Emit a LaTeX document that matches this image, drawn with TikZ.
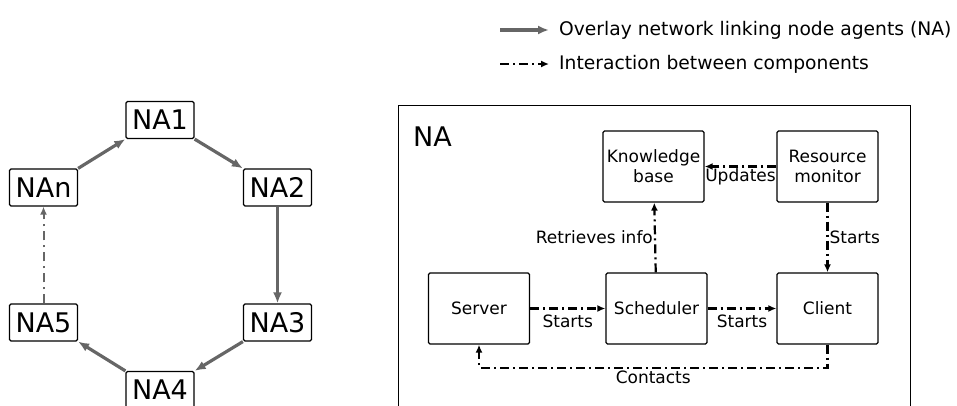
\documentclass[tikz,border=0pt]{standalone}
\usepackage{fontspec}
\setmainfont{DejaVu Sans}
\usepackage{tikz}
\usetikzlibrary{calc, positioning, arrows.meta}

\begin{document}
\begin{tikzpicture}[
    x=1pt, y=-1pt,
    agent/.style={
        rectangle,
        draw=black,
        line width=1.2pt,
        rounded corners=1.5pt,
        minimum width=68pt,
        minimum height=37pt,
        inner sep=0pt,
        font=\fontsize{27}{30}\selectfont
    },
    part/.style={
        rectangle,
        draw=black,
        line width=1.3pt,
        rounded corners=1.5pt,
        minimum width=101pt,
        minimum height=71pt,
        align=center,
        inner sep=1pt,
        font=\fontsize{17}{20}\selectfont
    },
    ring/.style={
        -{Latex[length=11pt, width=9pt]},
        line width=3.2pt,
        color=black!60
    },
    flow/.style={
        -{Latex[length=8pt, width=7pt]},
        line width=2.2pt,
        dash pattern=on 9pt off 4pt on 2pt off 4pt
    },
    lbl/.style={
        font=\fontsize{17}{20}\selectfont,
        inner sep=2pt
    }
]
\clip (0,0) rectangle (957,405);

% legend
\coordinate (leg1a) at (500,30);
\coordinate (leg1b) at (549,30);
\coordinate (leg2a) at (500,64);
\coordinate (leg2b) at (549,64);
\draw[ring] (leg1a) -- (leg1b);
\draw[flow] (leg2a) -- (leg2b);
\node[lbl, font=\fontsize{18.7}{20}\selectfont, right=8pt of leg1b] (leg1) {Overlay network linking node agents (NA)};
\node[lbl, font=\fontsize{18.7}{20}\selectfont, right=8pt of leg2b] (leg2) {Interaction between components};

% overlay ring
\node[agent] (na1) at (160,120) {NA1};
\node[agent] (na2) at (277.5,187.5) {NA2};
\node[agent] (na3) at (277.5,322.5) {NA3};
\node[agent] (na4) at (160,390) {NA4};
\node[agent] (na5) at (43.5,322.5) {NA5};
\node[agent] (nan) at (43.5,187.5) {NAn};

\draw[ring] (nan.north east) -- (na1.south west);
\draw[ring] (na1.south east) -- (na2.north west);
\draw[ring] (na2) -- (na3);
\draw[ring] (na3.south west) -- (na4.north east);
\draw[ring] (na4.north west) -- (na5.south east);
\draw[ring, line width=2pt, -{Latex[length=8pt, width=7pt]}, dash pattern=on 9pt off 5pt on 2pt off 5pt] (na5) -- (nan);

% node agent internals
\node[draw, line width=1.3pt, minimum width=512pt, minimum height=340pt, anchor=north west] (box) at (398,105) {};
\node[anchor=west, font=\fontsize{27}{30}\selectfont, inner sep=0pt] (boxname) at (413,137) {NA};

\node[part] (kb) at (653.5,166.5) {Knowledge\\base};
\node[part] (rm) at (827.5,166.5) {Resource\\monitor};
\node[part] (server) at (479,308.5) {Server};
\node[part] (sched) at (656.5,308.5) {Scheduler};
\node[part] (client) at (827.5,308.5) {Client};

\draw[flow] (server) -- node[lbl, below=3pt] {Starts} (sched);
\draw[flow] (sched) -- node[lbl, below=3pt] {Starts} (client);
\draw[flow] (sched) -- node[lbl, left, inner sep=1pt] {Retrieves info} (kb);
\draw[flow] (rm) -- node[lbl, below, inner sep=1pt] {Updates} (kb);
\draw[flow] (rm) -- node[lbl, right, inner sep=1pt] {Starts} (client);
\draw[flow] (client.south) -- ++(0,23) -| node[lbl, pos=0.25, below] {Contacts} (server.south);

\end{tikzpicture}
\end{document}
